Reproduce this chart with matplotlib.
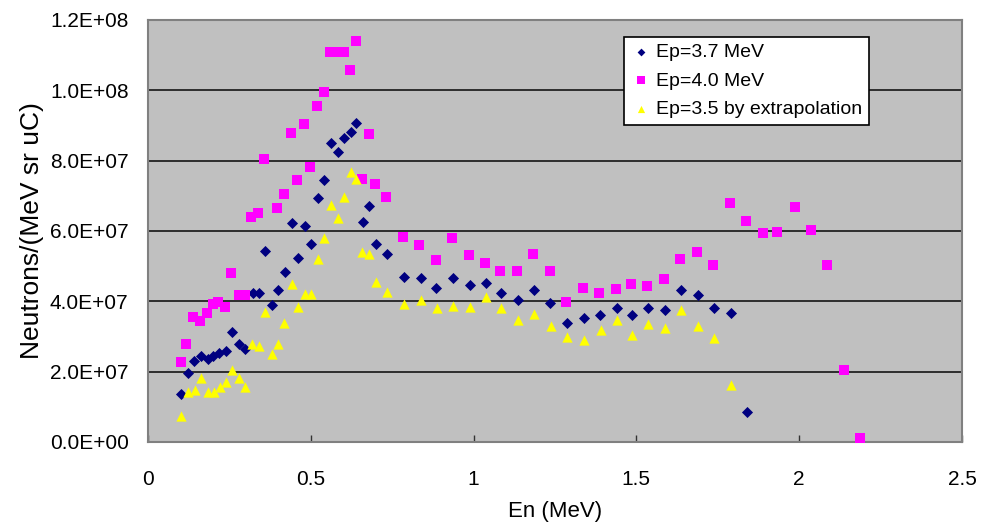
import matplotlib
matplotlib.use("Agg")
import matplotlib.pyplot as plt

# Ep = 3.7 MeV
x37 = [0.10, 0.122, 0.141, 0.163, 0.183, 0.20, 0.219, 0.24, 0.258, 0.278, 0.297,
       0.324, 0.34, 0.36, 0.381, 0.40, 0.42, 0.441, 0.462, 0.481, 0.502, 0.523,
       0.540, 0.562, 0.583, 0.603, 0.623, 0.640, 0.659, 0.68, 0.70, 0.734,
       0.785, 0.837, 0.886, 0.938, 0.989, 1.038, 1.084, 1.135, 1.186, 1.236,
       1.287, 1.338, 1.389, 1.439, 1.486, 1.537, 1.587, 1.636, 1.688, 1.739,
       1.79, 1.84]
y37 = [1.37, 1.95, 2.30, 2.45, 2.35, 2.45, 2.52, 2.60, 3.14, 2.78, 2.65,
       4.23, 4.23, 5.42, 3.89, 4.32, 4.83, 6.24, 5.24, 6.15, 5.62, 6.93,
       7.45, 8.50, 8.25, 8.64, 8.82, 9.06, 6.25, 6.71, 5.63, 5.36,
       4.70, 4.65, 4.37, 4.66, 4.47, 4.51, 4.25, 4.03, 4.32, 3.95,
       3.37, 3.53, 3.61, 3.81, 3.60, 3.80, 3.76, 4.32, 4.17, 3.80,
       3.66, 0.85]

# Ep = 4.0 MeV
x40 = [0.10, 0.118, 0.137, 0.16, 0.18, 0.199, 0.215, 0.235, 0.255, 0.278, 0.297,
       0.316, 0.337, 0.357, 0.397, 0.418, 0.438, 0.459, 0.478, 0.499, 0.519,
       0.540, 0.560, 0.580, 0.601, 0.620, 0.638, 0.658, 0.678, 0.698, 0.732,
       0.782, 0.833, 0.885, 0.935, 0.987, 1.035, 1.081, 1.132, 1.184, 1.234,
       1.285, 1.336, 1.386, 1.437, 1.482, 1.534, 1.584, 1.634, 1.685, 1.736,
       1.787, 1.838, 1.888, 1.933, 1.986, 2.035, 2.085, 2.137, 2.187]
y40 = [2.28, 2.79, 3.55, 3.45, 3.68, 3.93, 3.98, 3.85, 4.81, 4.17, 4.17,
       6.41, 6.51, 8.05, 6.65, 7.04, 8.80, 7.45, 9.03, 7.82, 9.55,
       9.94, 11.10, 11.08, 11.10, 10.57, 11.39, 7.47, 8.76, 7.34, 6.96,
       5.84, 5.60, 5.18, 5.80, 5.32, 5.10, 4.87, 4.87, 5.34, 4.87,
       3.98, 4.39, 4.25, 4.35, 4.49, 4.44, 4.63, 5.20, 5.41, 5.04,
       6.79, 6.28, 5.94, 5.97, 6.69, 6.03, 5.04, 2.06, 0.12]

# Ep = 3.5 by extrapolation
x35 = [0.101, 0.124, 0.144, 0.163, 0.183, 0.203, 0.221, 0.24, 0.258, 0.278, 0.299,
       0.319, 0.34, 0.36, 0.382, 0.40, 0.419, 0.441, 0.461, 0.481, 0.502, 0.522,
       0.541, 0.562, 0.583, 0.603, 0.622, 0.639, 0.658, 0.678, 0.70, 0.735,
       0.786, 0.837, 0.888, 0.938, 0.988, 1.039, 1.085, 1.135, 1.186, 1.237,
       1.288, 1.339, 1.39, 1.44, 1.486, 1.537, 1.587, 1.638, 1.688, 1.739, 1.79]
y35 = [0.75, 1.43, 1.48, 1.81, 1.43, 1.43, 1.57, 1.72, 2.05, 1.81, 1.57,
       2.79, 2.74, 3.69, 2.50, 2.79, 3.37, 4.49, 3.83, 4.21, 4.21, 5.19,
       5.80, 6.74, 6.36, 6.98, 7.69, 7.47, 5.39, 5.35, 4.54, 4.26,
       3.93, 4.04, 3.81, 3.88, 3.85, 4.11, 3.80, 3.47, 3.64, 3.30,
       2.98, 2.89, 3.18, 3.47, 3.04, 3.36, 3.23, 3.74, 3.30, 2.95, 1.62]

yticks = [0, 2e7, 4e7, 6e7, 8e7, 1e8, 1.2e8]
ytick_labels = ["0.0E+00", "2.0E+07", "4.0E+07", "6.0E+07", "8.0E+07",
                "1.0E+08", "1.2E+08"]
xticks = [0, 0.5, 1, 1.5, 2, 2.5]
xtick_labels = ["0", "0.5", "1", "1.5", "2", "2.5"]

plt.rcParams['font.family'] = ['Liberation Sans', 'DejaVu Sans']

fig = plt.figure(figsize=(9.84, 5.26), dpi=100)
ax = fig.add_axes([0.1504, 0.1597, 0.8272, 0.8023])
ax.set_facecolor("#C0C0C0")

ax.scatter(x37, [v * 1e7 for v in y37], marker="D", s=32, color="#000080",
           linewidths=0, label="Ep=3.7 MeV", zorder=3)
ax.scatter(x40, [v * 1e7 for v in y40], marker="s", s=52, color="#FF00FF",
           linewidths=0, label="Ep=4.0 MeV", zorder=3)
ax.scatter(x35, [v * 1e7 for v in y35], marker="^", s=55, color="#FFFF00",
           linewidths=0, label="Ep=3.5 by extrapolation", zorder=3)

ax.set_xlim(0, 2.5)
ax.set_ylim(0, 1.2e8)
ax.set_yticks(yticks)
ax.set_yticklabels(ytick_labels, fontsize=15)
ax.set_xticks(xticks)
ax.set_xticklabels(xtick_labels, fontsize=15)
ax.tick_params(axis="x", direction="in", length=5, width=1, color="#333333", pad=20)
ax.tick_params(axis="y", direction="in", length=0, pad=14)

ax.grid(axis="y", color="#222222", linewidth=1.3)
ax.set_axisbelow(True)
for side in ["left", "bottom", "top", "right"]:
    ax.spines[side].set_color("#808080")
    ax.spines[side].set_linewidth(1.5)

ax.set_xlabel("En (MeV)", fontsize=16, labelpad=9)
ax.set_ylabel("Neutrons/(MeV sr uC)", fontsize=19, labelpad=4)

leg = ax.legend(loc="upper left", bbox_to_anchor=(0.585, 0.96), fontsize=14,
                frameon=True, fancybox=False, edgecolor="black",
                facecolor="white", framealpha=1, handletextpad=0.3,
                borderpad=0.35, labelspacing=0.55, markerscale=0.7,
                handlelength=1.0, borderaxespad=0)
leg.get_frame().set_linewidth(1.2)

fig.savefig("out.png", dpi=100)
